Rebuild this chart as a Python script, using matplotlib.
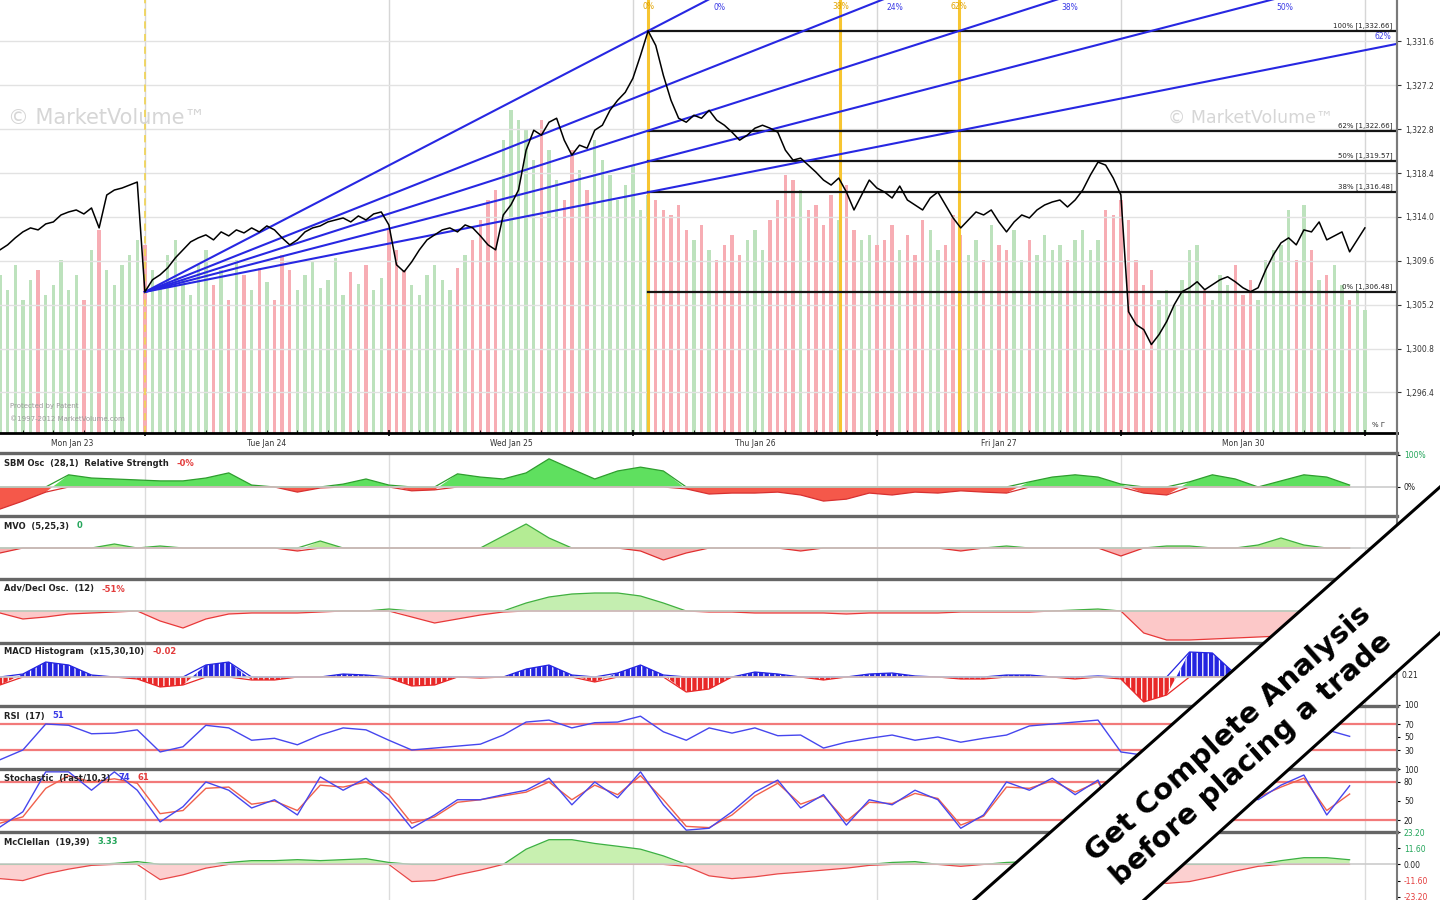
import numpy as np
import matplotlib
matplotlib.use("Agg")
from matplotlib import pyplot as plt
from matplotlib.patches import Polygon
from matplotlib.lines import Line2D

plt.rcParams['hatch.linewidth'] = 0.9
plt.rcParams['hatch.color'] = 'white'

W, H = 1440, 900
BAR_PX = 7.625              # 32 bars per trading day
XMAX = 1397 / BAR_PX

# ---- main panel data (one value per bar) ----
price = [1310.7, 1311.2, 1311.9, 1312.5, 1312.9, 1312.7, 1313.3, 1313.5, 1314.2, 1314.5,
         1314.7, 1314.3, 1314.9, 1312.9, 1316.2, 1316.7, 1316.9, 1317.2, 1317.5, 1306.48,
         1307.7, 1308.2, 1308.9, 1309.9, 1310.7, 1311.5, 1311.9, 1312.2, 1311.7, 1312.5,
         1312.1, 1312.7, 1312.4, 1312.9, 1312.5, 1313.1, 1312.7, 1311.9, 1311.2, 1311.7,
         1312.5, 1312.9, 1313.1, 1313.5, 1313.7, 1313.9, 1313.5, 1314.1, 1313.7, 1314.3,
         1314.5, 1313.2, 1309.2, 1308.5, 1309.5, 1310.7, 1311.7, 1312.2, 1312.7, 1312.9,
         1312.5, 1313.2, 1312.9, 1312.1, 1311.2, 1310.7, 1314.2, 1315.2, 1316.7, 1320.7,
         1322.7, 1322.2, 1323.5, 1323.9, 1321.7, 1320.2, 1321.2, 1320.9, 1322.7, 1323.2,
         1324.7, 1325.7, 1326.5, 1327.9, 1330.2, 1332.66, 1331.2, 1328.2, 1325.7, 1323.9,
         1323.5, 1324.2, 1323.9, 1324.7, 1323.7, 1323.2, 1322.5, 1321.7, 1322.2, 1322.9,
         1323.2, 1322.9, 1322.5, 1320.7, 1319.7, 1319.9, 1319.2, 1318.5, 1317.7, 1317.2,
         1317.9, 1316.5, 1314.7, 1316.2, 1317.7, 1316.9, 1316.5, 1315.9, 1317.1, 1315.7,
         1315.2, 1314.7, 1315.9, 1316.5, 1315.2, 1313.9, 1312.9, 1313.7, 1314.5, 1314.2,
         1314.7, 1313.5, 1312.5, 1313.5, 1314.2, 1313.9, 1314.7, 1315.2, 1315.5, 1315.7,
         1315.0, 1315.7, 1316.7, 1318.2, 1319.5, 1319.2, 1317.9, 1316.2, 1304.5, 1303.2,
         1302.7, 1301.2, 1302.2, 1303.5, 1305.2, 1306.5, 1306.9, 1307.5, 1306.7, 1307.2,
         1307.7, 1308.0, 1307.5, 1306.9, 1306.5, 1306.9, 1308.7, 1310.2, 1311.4, 1311.9,
         1311.2, 1312.7, 1312.5, 1313.5, 1311.7, 1312.1, 1312.5, 1310.5, 1311.7, 1312.9]

volume = [158, 143, 168, 133, 153, 163, 138, 148, 173, 143, 158, 133, 183, 203, 163, 148, 168, 178, 193,
          188, 163, 148, 178, 193, 153, 138, 168, 183, 148, 163, 133, 173, 158, 143, 165, 151, 133,
          178, 163, 143, 158, 171, 145, 153, 175, 138, 161, 149, 168, 143, 155,
          203, 183, 163, 148, 138, 158, 168, 153, 143, 165, 178, 193, 213, 233, 243,
          293, 323, 313, 303, 273, 313, 283, 253, 233, 283, 263, 243, 293, 273, 258, 233, 248, 268, 223, 238,
          233, 223, 218, 228, 203, 193, 208, 183, 173, 188, 198, 178, 193, 203, 183, 213, 233, 258, 253, 243,
          223, 228, 208, 238, 213, 248, 203, 193, 198, 188,
          193, 208, 183, 198, 178, 213, 203, 183, 188, 218, 198, 178, 193, 173, 208, 188, 183, 203, 173, 193,
          178, 198, 183, 188, 173, 193, 203, 183, 193, 223, 218, 233,
          213, 173, 148, 163, 133, 143, 128, 153, 183, 188, 143, 133, 158, 148, 168, 138, 153, 133, 173, 183,
          188, 223, 173, 228, 183, 153, 158, 168, 148, 133, 143, 123]

day_bounds = [0, 19, 51, 83, 115, 147, 179]
day_labels = ["Mon Jan 23", "Tue Jan 24", "Wed Jan 25", "Thu Jan 26", "Fri Jan 27", "Mon Jan 30"]
price_ticks = [1296.4, 1300.8, 1305.2, 1309.6, 1314.0, 1318.4, 1322.8, 1327.2, 1331.6]

low_bar, high_bar = 19, 85
fib_low, fib_high = 1306.48, 1332.66
fib_levels = [1.0, 0.618, 0.5, 0.382, 0.0]
fan_ratios = [0.0, 0.236, 0.382, 0.5, 0.618]
fan_labels = ["0%", "24%", "38%", "50%", "62%"]
time_ratios = [0.0, 0.382, 0.618]
time_labels = ["0%", "38%", "62%"]

# ---- indicator panels (one value every 3 bars) ----
sbm = [-69, -44, -16, 38, 28, 25, 22, 19, 19, 28, 44, 6, 0, -16, -3, 9, 25, 6, -12, -9,
       41, 31, 25, 44, 88, 56, 25, 50, 62, 50, -6, -22, -19, -19, -16, -25, -44, -38, -19, -25,
       -16, -19, -12, -16, -19, 16, 31, 38, 31, 9, -19, -25, 16, 38, 25, 0, 19, 38, 31, 6]
mvo = [-5, 0, 0, 0, 0, 4, 0, 2, 0, 0, 0, 0, 0, -3, 7, 0, 0, 0, 0, 0,
       0, 0, 12, 24, 10, 0, 0, 0, -3, -12, -5, 0, 0, 0, 0, -3, 0, 0, 0, 0,
       0, 0, -3, 0, 2, 0, 0, 0, 0, -8, 0, 2, 2, 0, 0, 3, 10, 3, 0, 0]
adv_decl = [-2, -8, -6, -3, -2, -1, 0, -10, -17, -8, -3, -2, -2, -2, -1, 0, 0, 2, -6, -12,
            -8, -4, -1, 8, 14, 17, 18, 18, 15, 8, 0, -1, -1, -2, -2, -2, -2, -3, -2, -2,
            -2, -2, -1, -1, -1, -1, 0, 1, 2, 0, -22, -29, -29, -28, -27, -26, -25, -25, -24, -24]
macd = [-8, 3, 15, 12, 2, 0, -2, -10, -8, 12, 15, -3, -3, 0, 0, 3, 2, -1, -9, -8,
        0, -1, 0, 8, 12, 2, -5, 4, 12, 2, -15, -12, 0, 5, 3, 0, -3, 0, 3, 4,
        1, 0, -2, -2, 2, 2, 0, -2, 1, -2, -25, -18, 25, 24, 3, 0, -3, -4, -2, -1]
rsi = [15, 30, 70, 68, 55, 56, 61, 27, 35, 68, 64, 45, 48, 38, 53, 64, 61, 45, 30, 33,
       36, 39, 53, 73, 76, 64, 72, 73, 82, 58, 45, 64, 56, 64, 52, 53, 33, 42, 48, 53,
       45, 50, 42, 48, 53, 67, 70, 73, 76, 27, 22, 30, 38, 45, 53, 64, 68, 73, 61, 51]
stoch_k = [9, 33, 96, 96, 67, 96, 67, 17, 41, 80, 67, 39, 52, 28, 88, 67, 86, 52, 7, 28,
           52, 52, 60, 67, 86, 44, 80, 55, 96, 44, 4, 7, 33, 64, 83, 39, 60, 12, 52, 44,
           67, 52, 7, 28, 80, 67, 86, 60, 83, 7, 28, 52, 67, 83, 67, 52, 75, 91, 28, 74]
stoch_d = [15, 25, 70, 90, 80, 85, 78, 30, 35, 70, 72, 45, 50, 35, 75, 72, 80, 60, 15, 25,
           48, 52, 58, 64, 80, 52, 75, 60, 90, 52, 10, 8, 28, 58, 78, 45, 58, 18, 48, 46,
           62, 54, 12, 26, 72, 70, 82, 64, 80, 12, 24, 48, 62, 78, 70, 56, 72, 86, 35, 61]
mcclellan = [-10.2, -11.6, -6.8, -3.4, -0.7, 0.7, 2.0, -10.9, -7.5, -2.7, 1.4, 2.7, 2.7, 3.4, 2.7,
             3.4, 4.1, 1.4, -12.3, -11.6, -7.5, -4.1, 0.0, 10.9, 17.7, 17.7, 15.0, 13.0, 10.9, 6.1,
             -1.4, -8.2, -10.2, -8.9, -6.8, -5.5, -4.1, -2.7, -0.7, 1.4, 2.0, 0.0, -1.4, 0.0, 1.4,
             2.0, 2.7, 3.4, 3.4, 0.0, -10.9, -13.6, -12.3, -8.9, -4.8, -1.4, 2.7, 4.8, 4.8, 3.33]
osc_x = np.arange(0, 180, 3)

DARK = '#222222'
GREEN_TXT = '#23a55a'
RED_TXT = '#e33b3b'
BLUE_TXT = '#3a3ae6'

fig = plt.figure(figsize=(W / 100, H / 100), dpi=100)
renderer = fig.canvas.get_renderer()


def px_axes(top, bottom):
    return fig.add_axes([0, 1 - bottom / H, 1397 / W, (bottom - top) / H])


def ftext(x, y, s, **kw):
    kw.setdefault('fontsize', 5.5)
    return fig.text(x / W, 1 - y / H, s, **kw)


def fline(x0, y0, x1, y1, **kw):
    fig.add_artist(Line2D([x0 / W, x1 / W], [1 - y0 / H, 1 - y1 / H],
                          transform=fig.transFigure, **kw))


# ---------------- main price panel ----------------
bars = np.arange(len(price))
vol_colors = ['#bde2bd' if i == 0 or price[i] >= price[i - 1] else '#f7adb4'
              for i in range(len(price))]

ax_vol = px_axes(0, 433)
ax_vol.set_xlim(0, XMAX)
ax_vol.set_ylim(0, 433)
ax_vol.axis('off')
for d in day_bounds[1:]:
    ax_vol.axvline(d, color='#d6d6d6', lw=1, zorder=0)
ax_vol.bar(bars, volume, width=0.45, color=vol_colors, zorder=1)

ax = px_axes(0, 433)
ax.patch.set_visible(False)
ax.set_xlim(0, XMAX)
ax.set_ylim(1292.33, 1335.76)
ytop = ax.get_ylim()[1]
for t in price_ticks:
    ax.axhline(t, color='#e2e2e2', lw=1, zorder=0)

ax.yaxis.tick_right()
ax.set_yticks(price_ticks)
ax.set_yticklabels([f"{t:,.1f}" for t in price_ticks])
ax.tick_params(axis='y', labelsize=5.5, length=3, pad=3, colors='#333333')
ax.set_xticks(day_bounds[1:])
ax.set_xticklabels([])
ax.set_xticks(np.arange(3, 183, 4), minor=True)
ax.tick_params(axis='x', which='major', length=5, width=1.2, direction='inout')
ax.tick_params(axis='x', which='minor', length=2, direction='in')
for s in ('top', 'left'):
    ax.spines[s].set_visible(False)
ax.spines['bottom'].set_linewidth(2)
ax.spines['right'].set_color('#777777')
ax.spines['right'].set_linewidth(1.5)

# fibonacci time lines
span = high_bar - low_bar
for r, lab in zip(time_ratios, time_labels):
    xt = high_bar + r * span
    ax.axvline(xt, color='#f7c531', lw=2.2, zorder=2)
    ax.text(xt, ytop - 0.25, lab, color='#e2a400', fontsize=5.5, ha='center', va='top', zorder=5)
ax.axvline(low_bar, color='#f0d45a', lw=1.3, ls=(0, (4, 3)), zorder=2)

# fibonacci retracement levels
rng = fib_high - fib_low
for r in fib_levels:
    lvl = fib_low + r * rng
    ax.plot([high_bar, XMAX], [lvl, lvl], color='#151515', lw=1.6, zorder=4)
    ax.text(XMAX - 0.6, lvl + 0.2, f"{round(r * 100):d}% [{lvl:,.2f}]",
            ha='right', va='bottom', fontsize=5, color='#222222', zorder=5)

# fibonacci fan
for r, lab in zip(fan_ratios, fan_labels):
    target = fib_high - r * rng
    slope = (target - fib_low) / span
    y_end = fib_low + slope * (XMAX - low_bar)
    ax.plot([low_bar, XMAX], [fib_low, y_end], color='#2727e2', lw=1.5, zorder=4)
    x_exit = low_bar + (ytop - fib_low) / slope
    if x_exit < XMAX:
        ax.text(x_exit + 0.7, ytop - 0.3, lab, color=BLUE_TXT, fontsize=5.5, ha='left', va='top')
    else:
        ax.text(XMAX - 0.8, y_end + 0.3, lab, color=BLUE_TXT, fontsize=5.5, ha='right', va='bottom')

ax.plot(bars, price, color='black', lw=1.1, zorder=6)

# watermarks
ftext(8, 118, "\u00a9 MarketVolume\u2122", fontsize=15, color='#d6d6d6', va='center')
ftext(1168, 118, "\u00a9 MarketVolume\u2122", fontsize=12.5, color='#d6d6d6', va='center')
ftext(10, 406, "Protected by Patent", fontsize=5, color='#9a9a9a', va='center')
ftext(10, 419, "\u00a91997-2012 MarketVolume.com", fontsize=5, color='#9a9a9a', va='center')
ftext(1372, 425, "% \u0393", fontsize=5, color='#333333', va='center')

# date strip
for a, b, lab in zip(day_bounds[:-1], day_bounds[1:], day_labels):
    ftext((a + b) / 2 * BAR_PX, 443, lab, fontsize=5.5, color='#333333', ha='center', va='center')


# ---------------- indicator panels ----------------
def panel(top, bottom, ylim):
    a = px_axes(top, bottom)
    a.set_xlim(0, XMAX)
    a.set_ylim(*ylim)
    for s in a.spines.values():
        s.set_visible(False)
    a.set_xticks([])
    a.set_yticks([])
    for d in day_bounds[1:]:
        a.axvline(d, color='#dcdcdc', lw=1, zorder=0)
    return a


def two_tone(a, y, up, dn, hatch=None):
    y = np.asarray(y, dtype=float)
    for mask, (face, edge) in ((y >= 0, up), (y <= 0, dn)):
        a.fill_between(osc_x, 0, y, where=mask, interpolate=True, facecolor=face,
                       edgecolor='white' if hatch else face, hatch=hatch, lw=0)
    a.plot(osc_x, np.maximum(y, 0), color=up[1], lw=0.9)
    a.plot(osc_x, np.minimum(y, 0), color=dn[1], lw=0.9)
    a.axhline(0, color='#cccccc', lw=1.2)


def right_ticks(a, ticks, labels, colors):
    a.yaxis.tick_right()
    a.set_yticks(ticks)
    a.set_yticklabels(labels)
    a.tick_params(axis='y', labelsize=5.5, length=2, pad=3)
    for t, c in zip(a.get_yticklabels(), colors):
        t.set_color(c)


def label_row(y, parts, x=4):
    for s, c in parts:
        t = ftext(x, y, s, color=c, fontsize=6, fontweight='bold', va='center')
        x = t.get_window_extent(renderer).x1 + 8


a_sbm = panel(454, 515, (-87.5, 103))
two_tone(a_sbm, sbm, ('#5fe05f', '#2e9e2e'), ('#f5584a', '#d83030'))
right_ticks(a_sbm, [0, 100], ['0%', '100%'], [DARK, GREEN_TXT])

a_mvo = panel(517, 578, (-30, 31))
two_tone(a_mvo, mvo, ('#b4ec94', '#3faf3f'), ('#f7b0b0', '#e03030'))

a_ad = panel(580, 642, (-31, 31))
two_tone(a_ad, adv_decl, ('#c4eeb0', '#40b040'), ('#fcc8c8', '#e83838'))

a_macd = panel(644, 705, (-28, 33))
two_tone(a_macd, macd, ('#2424e0', '#2424e0'), ('#e82828', '#e82828'), hatch='|||')
ftext(1402, 675, "0.21", color=DARK, va='center')

a_rsi = panel(704.5, 769.5, (0, 100))
for lv in (70, 30):
    a_rsi.axhline(lv, color='#f27a7a', lw=1.6, zorder=1)
a_rsi.plot(osc_x, rsi, color='#4646ee', lw=1.0, zorder=3)
right_ticks(a_rsi, [30, 50, 70, 100], ['30', '50', '70', '100'], [DARK] * 4)

a_st = panel(769.3, 832.7, (0, 100))
for lv in (80, 20):
    a_st.axhline(lv, color='#f27a7a', lw=1.6, zorder=1)
a_st.plot(osc_x, stoch_d, color='#f0604c', lw=1.0, zorder=3)
a_st.plot(osc_x, stoch_k, color='#4646ee', lw=1.0, zorder=4)
right_ticks(a_st, [20, 50, 80, 100], ['20', '50', '80', '100'], [DARK] * 4)

a_mc = panel(832, 900, (-25.5, 23.2))
two_tone(a_mc, mcclellan, ('#c8f0b0', '#3cb043'), ('#fcd0d0', '#e84848'))
mc_ticks = [-23.2, -11.6, 0.0, 11.6, 23.2]
right_ticks(a_mc, mc_ticks, [f"{v:.2f}" for v in mc_ticks],
            [RED_TXT, RED_TXT, DARK, GREEN_TXT, GREEN_TXT])

label_row(463, [("SBM Osc  (28,1)  Relative Strength", DARK), ("-0%", RED_TXT)])
label_row(526, [("MVO  (5,25,3)", DARK), ("0", GREEN_TXT)])
label_row(589, [("Adv/Decl Osc.  (12)", DARK), ("-51%", RED_TXT)])
label_row(652, [("MACD Histogram  (x15,30,10)", DARK), ("-0.02", RED_TXT)])
label_row(716, [("RSI  (17)", DARK), ("51", BLUE_TXT)])
label_row(778, [("Stochastic  (Fast/10,3)", DARK), ("74", BLUE_TXT), ("61", RED_TXT)])
label_row(842, [("McClellan  (19,39)", DARK), ("3.33", GREEN_TXT)])

# panel separators and right border
for ys in (452.5, 516, 579, 643, 706, 769, 832):
    fline(0, ys, 1397, ys, color='#666666', lw=2.4, zorder=3)
fline(1397, 0, 1397, 900, color='#7a7a7a', lw=1.5, zorder=3)

# promo banner
band = [(974, 900), (1440, 487), (1440, 633), (1144, 900)]
fig.add_artist(Polygon([(x / W, 1 - y / H) for x, y in band], closed=True,
                       transform=fig.transFigure, facecolor='white', edgecolor='none', zorder=20))
fline(974, 900, 1440, 487, color='black', lw=2.2, zorder=21)
fline(1144, 900, 1440, 633, color='black', lw=2.2, zorder=21)
ftext(1228, 733, "Get Complete Analysis", fontsize=21, fontweight='bold', rotation=41.6,
      rotation_mode='anchor', ha='center', va='center', color='black', zorder=22)
ftext(1251, 759, "before placing a trade", fontsize=21, fontweight='bold', rotation=41.6,
      rotation_mode='anchor', ha='center', va='center', color='black', zorder=22)

fig.savefig("out.png", dpi=100)
